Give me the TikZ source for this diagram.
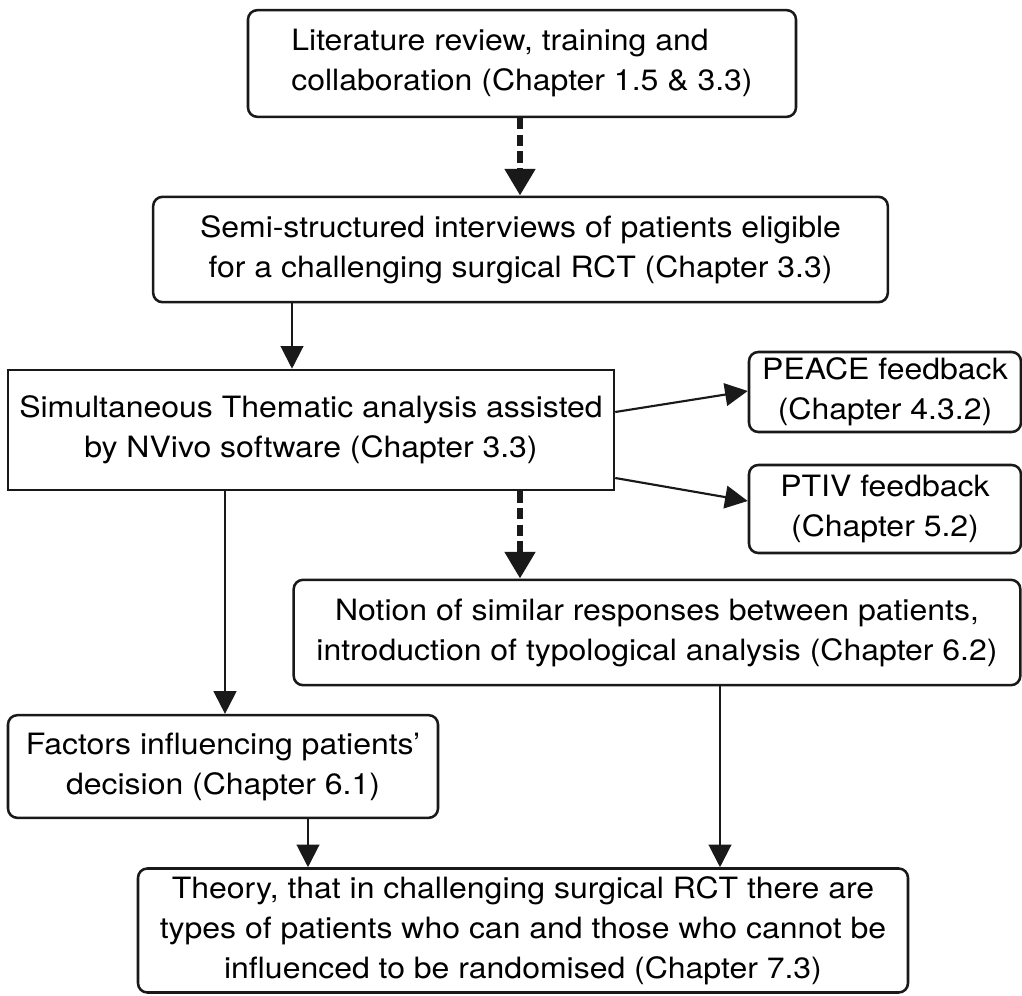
\documentclass[tikz,border=0pt]{standalone}
\usepackage{fontspec}
\setmainfont[FakeStretch=1.09]{TeX Gyre Heros}
\usetikzlibrary{arrows.meta}
\begin{document}
\begin{tikzpicture}[x=0.75pt,y=-0.75pt,
  box/.style={draw=black!90,line width=1.9pt,rounded corners=7pt,inner sep=0pt,
    font=\fontsize{22}{30}\selectfont,align=center},
  sqbox/.style={box,rounded corners=0pt},
  thinarrow/.style={line width=1.6pt,draw=black!90,-{Triangle[width=17pt,length=17pt]}},
  dasharrow/.style={line width=5pt,draw=black!90,dash pattern=on 8.5pt off 4pt,
    -{Triangle[width=22pt,length=20pt]}}]
\useasboundingbox (0,0) rectangle (1022,996);
\node[box,minimum width=411pt,minimum height=80pt,align=left] (top) at (522,63.5)
  {Literature review, training and\\collaboration (Chapter 1.5 \& 3.3)};
\node[box,minimum width=551pt,minimum height=79pt] (semi) at (520.5,249.5)
  {Semi-structured interviews of patients eligible\\for a challenging surgical RCT (Chapter 3.3)};
\node[sqbox,minimum width=454.5pt,minimum height=90pt] (them) at (311,430)
  {Simultaneous Thematic analysis assisted\\by NVivo software (Chapter 3.3)};
\node[box,minimum width=204pt,minimum height=60pt] (peace) at (885,392)
  {PEACE feedback\\(Chapter 4.3.2)};
\node[box,minimum width=204pt,minimum height=66pt] (ptiv) at (885,509)
  {PTIV feedback\\(Chapter 5.2)};
\node[box,minimum width=545pt,minimum height=79pt] (notion) at (657,632.5)
  {Notion of similar responses between patients,\\introduction of typological analysis (Chapter 6.2)};
\node[box,minimum width=322.5pt,minimum height=77pt] (fact) at (223,766.5)
  {Factors influencing patients'\\decision (Chapter 6.1)};
\node[box,minimum width=577.5pt,minimum height=93pt] (theory) at (523,930.5)
  {Theory, that in challenging surgical RCT there are\\types of patients who can and those who cannot be\\influenced to be randomised (Chapter 7.3)};
\draw[dasharrow] (top.south -| 520,0) -- (semi.north -| 520,0);
\draw[thinarrow] (semi.south -| 292,0) -- (them.north -| 292,0);
\draw[thinarrow] (them.east |- 0,412) -- (peace.west |- 0,391);
\draw[thinarrow] (them.east |- 0,478) -- (ptiv.west |- 0,501);
\draw[dasharrow] (them.south -| 520,0) -- (notion.north -| 520,0);
\draw[thinarrow] (them.south -| 225,0) -- (fact.north -| 225,0);
\draw[thinarrow] (notion.south -| 720,0) -- (theory.north -| 720,0);
\draw[thinarrow] (fact.south -| 308,0) -- (theory.north -| 308,0);
\end{tikzpicture}
\end{document}
